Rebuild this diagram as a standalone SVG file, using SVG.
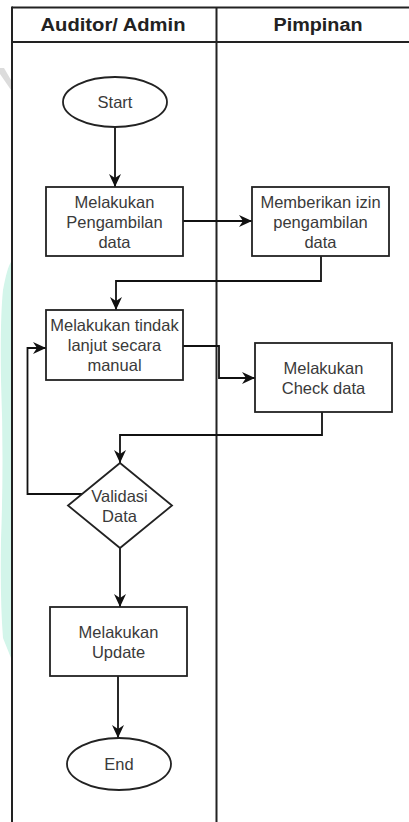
<svg xmlns="http://www.w3.org/2000/svg" width="409" height="822" viewBox="0 0 409 822">
  <style>
    .lane { fill: none; stroke: #222; stroke-width: 2; }
    .shape { fill: #fff; stroke: #222; stroke-width: 1.8; }
    .edge { fill: none; stroke: #111; stroke-width: 1.8; }
    .head { font-family: "Liberation Sans", Arial, sans-serif; font-weight: bold; font-size: 18px; fill: #222; text-anchor: middle; }
    .lbl { font-family: "Liberation Sans", Arial, sans-serif; font-size: 16.5px; fill: #3a3a3a; text-anchor: middle; }
  </style>
  <defs>
    <marker id="arrow" markerUnits="userSpaceOnUse" markerWidth="14" markerHeight="14" viewBox="0 0 14 14" refX="13" refY="7" orient="auto">
      <path d="M0,1 L13,7 L0,13 L4,7 Z" fill="#111"/>
    </marker>
  </defs>

  <rect width="409" height="822" fill="#fff"/>

  <!-- faint background marks at the left margin -->
  <path d="M11,262 L11,658 L3,638 Q0,600 1,540 Q4,460 1,380 Q0,320 3,290 Q7,268 11,262 Z" fill="#d3f5ea"/>
  <path d="M0,68 L4,68 L11,80 L11,90 L0,74 Z" fill="#dcdcdc"/>

  <!-- swimlanes -->
  <g id="lanes">
    <line class="lane" x1="12" y1="7.5" x2="409" y2="7.5"/>
    <line class="lane" x1="12" y1="42" x2="409" y2="42"/>
    <line class="lane" x1="12" y1="6.5" x2="12" y2="822"/>
    <line class="lane" x1="216.5" y1="7.5" x2="216.5" y2="822"/>
    <text class="head" x="113" y="31" textLength="145" lengthAdjust="spacingAndGlyphs">Auditor/ Admin</text>
    <text class="head" x="318" y="31" textLength="89" lengthAdjust="spacingAndGlyphs">Pimpinan</text>
  </g>

  <!-- connectors -->
  <g id="connectors">
    <path class="edge" d="M115,127 L115,187" marker-end="url(#arrow)"/>
    <path class="edge" d="M183,221 L252,221" marker-end="url(#arrow)"/>
    <path class="edge" d="M321,256 L321,281 L116,281 L116,310" marker-end="url(#arrow)"/>
    <path class="edge" d="M183,346 L219,346 L219,378 L255,378" marker-end="url(#arrow)"/>
    <path class="edge" d="M322,412 L322,435 L120,435 L120,463" marker-end="url(#arrow)"/>
    <path class="edge" d="M82,494 L27.5,494 L27.5,348 L46,348" marker-end="url(#arrow)"/>
    <path class="edge" d="M120,548 L120,607" marker-end="url(#arrow)"/>
    <path class="edge" d="M118,676 L118,738" marker-end="url(#arrow)"/>
  </g>

  <!-- nodes -->
  <g id="start">
    <ellipse class="shape" cx="115" cy="102" rx="52" ry="25"/>
    <text class="lbl" x="115" y="108">Start</text>
  </g>

  <g id="ambil-data">
    <rect class="shape" x="46" y="187" width="137" height="69"/>
    <text class="lbl" x="114.5" y="207.5">Melakukan</text>
    <text class="lbl" x="114.5" y="227.5">Pengambilan</text>
    <text class="lbl" x="114.5" y="247.5">data</text>
  </g>

  <g id="izin">
    <rect class="shape" x="252" y="187" width="137" height="69"/>
    <text class="lbl" x="320.5" y="207.5">Memberikan izin</text>
    <text class="lbl" x="320.5" y="227.5">pengambilan</text>
    <text class="lbl" x="320.5" y="247.5">data</text>
  </g>

  <g id="tindak-lanjut">
    <rect class="shape" x="46" y="310" width="137" height="70"/>
    <text class="lbl" x="114.5" y="331">Melakukan tindak</text>
    <text class="lbl" x="114.5" y="351">lanjut secara</text>
    <text class="lbl" x="114.5" y="371">manual</text>
  </g>

  <g id="check-data">
    <rect class="shape" x="255" y="343" width="137" height="69"/>
    <text class="lbl" x="323.5" y="374">Melakukan</text>
    <text class="lbl" x="323.5" y="394">Check data</text>
  </g>

  <g id="validasi">
    <polygon class="shape" points="120,463 172,505.5 120,548 68,505.5"/>
    <text class="lbl" x="119.5" y="501.5">Validasi</text>
    <text class="lbl" x="119.5" y="521.5">Data</text>
  </g>

  <g id="update">
    <rect class="shape" x="50" y="607" width="137" height="69"/>
    <text class="lbl" x="118.5" y="637.5">Melakukan</text>
    <text class="lbl" x="118.5" y="657.5">Update</text>
  </g>

  <g id="end">
    <ellipse class="shape" cx="119" cy="764" rx="52" ry="26"/>
    <text class="lbl" x="119" y="770">End</text>
  </g>
</svg>
